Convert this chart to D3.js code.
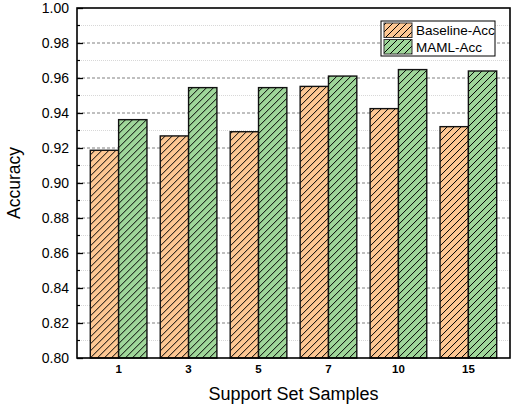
<!DOCTYPE html>
<html>
<head>
<meta charset="utf-8">
<script src="https://d3js.org/d3.v7.min.js"></script>
<style>
  body { margin: 0; background: #fff; }
  svg { font-family: "Liberation Sans", Arial, sans-serif; }
</style>
</head>
<body>
<div id="chart"></div>
<script>
// Data
const categories = ["1", "3", "5", "7", "10", "15"];
const seriesNames = ["Baseline-Acc", "MAML-Acc"];
const baselineAcc = [0.9187, 0.9269, 0.9293, 0.9552, 0.9425, 0.9322];
const mamlAcc = [0.9362, 0.9545, 0.9545, 0.9611, 0.9648, 0.9640];
const yTicks = [0.80, 0.82, 0.84, 0.86, 0.88, 0.90, 0.92, 0.94, 0.96, 0.98, 1.00];
const colors = ["#fdc793", "#9fd69a"];

const width = 512, height = 408;
const margin = { top: 8, right: 2, bottom: 50, left: 77 };
const innerW = width - margin.left - margin.right;
const innerH = height - margin.top - margin.bottom;

const svg = d3.select("#chart").append("svg")
  .attr("width", width)
  .attr("height", height);

// hatch patterns ("/" lines)
const defs = svg.append("defs");
colors.forEach((c, i) => {
  const p = defs.append("pattern")
    .attr("id", "hatch" + i)
    .attr("patternUnits", "userSpaceOnUse")
    .attr("width", 7)
    .attr("height", 7);
  p.append("rect").attr("width", 7).attr("height", 7).attr("fill", c);
  p.append("path")
    .attr("d", "M0,7 L7,0 M-1,1 L1,-1 M6,8 L8,6")
    .attr("stroke", "#000").attr("stroke-width", 1);
});

const g = svg.append("g")
  .attr("transform", `translate(${margin.left},${margin.top})`);

const x0 = d3.scaleBand()
  .domain(categories)
  .range([0, innerW])
  .paddingInner(0.19)
  .paddingOuter(0.19);

const x1 = d3.scaleBand()
  .domain(seriesNames)
  .range([0, x0.bandwidth()]);

const y = d3.scaleLinear().domain([0.8, 1.0]).range([innerH, 0]);

// minor grid
const minor = d3.range(0.81, 1.0, 0.02);
g.append("g").selectAll("line").data(minor).join("line")
  .attr("x1", 0).attr("x2", innerW)
  .attr("y1", d => y(d)).attr("y2", d => y(d))
  .attr("stroke", "#d8d8d8").attr("stroke-width", 1)
  .attr("stroke-dasharray", "1,1");

// major grid
g.append("g").selectAll("line").data(yTicks.slice(1, -1)).join("line")
  .attr("x1", 0).attr("x2", innerW)
  .attr("y1", d => y(d)).attr("y2", d => y(d))
  .attr("stroke", "#808080").attr("stroke-width", 1)
  .attr("stroke-dasharray", "3,2");

// bars
const rows = categories.map((c, i) => ({ cat: c, vals: [baselineAcc[i], mamlAcc[i]] }));
const groups = g.append("g").selectAll("g").data(rows).join("g")
  .attr("transform", d => `translate(${x0(d.cat)},0)`);

groups.selectAll("rect")
  .data(d => d.vals.map((v, i) => ({ name: seriesNames[i], v, i })))
  .join("rect")
  .attr("x", d => x1(d.name))
  .attr("y", d => y(d.v))
  .attr("width", x1.bandwidth())
  .attr("height", d => innerH - y(d.v))
  .attr("fill", d => `url(#hatch${d.i})`)
  .attr("stroke", "#111")
  .attr("stroke-width", 1.4);

// y axis
const yAxis = g.append("g")
  .call(d3.axisLeft(y).tickValues(yTicks).tickFormat(d3.format(".2f")).tickSizeInner(-6).tickSizeOuter(0).tickPadding(8));
yAxis.select(".domain").remove();
yAxis.selectAll("line").attr("stroke", "#000").attr("stroke-width", 1.3);
yAxis.selectAll("text").attr("font-size", 14).attr("fill", "#000");

// minor ticks
g.append("g").selectAll("line").data(d3.range(0.81, 1.0, 0.02)).join("line")
  .attr("x1", 0).attr("x2", 3)
  .attr("y1", d => y(d)).attr("y2", d => y(d))
  .attr("stroke", "#000").attr("stroke-width", 1.2);

// x axis
const xAxis = g.append("g")
  .attr("transform", `translate(0,${innerH})`)
  .call(d3.axisBottom(x0).tickSize(0).tickPadding(7));
xAxis.select(".domain").remove();
xAxis.selectAll("text").attr("font-size", 11.5).attr("font-weight", "bold").attr("fill", "#000");

// frame
g.append("rect")
  .attr("width", innerW).attr("height", innerH)
  .attr("fill", "none").attr("stroke", "#000").attr("stroke-width", 1.6);

// axis titles
svg.append("text")
  .attr("x", margin.left + innerW / 2)
  .attr("y", 400)
  .attr("text-anchor", "middle")
  .attr("font-size", 18)
  .text("Support Set Samples");

svg.append("text")
  .attr("transform", `translate(20,${margin.top + innerH / 2}) rotate(-90)`)
  .attr("text-anchor", "middle")
  .attr("font-size", 17.5)
  .text("Accuracy");

// legend
const lg = svg.append("g").attr("transform", "translate(381,21)");
lg.append("rect")
  .attr("width", 114).attr("height", 35)
  .attr("fill", "#fff").attr("stroke", "#000").attr("stroke-width", 1);
seriesNames.forEach((n, i) => {
  lg.append("rect")
    .attr("x", 3).attr("y", 2 + i * 16.5)
    .attr("width", 28).attr("height", 14.5)
    .attr("fill", `url(#hatch${i})`)
    .attr("stroke", "#333").attr("stroke-width", 1);
  lg.append("text")
    .attr("x", 35).attr("y", 14 + i * 16.5)
    .attr("font-size", 13.5)
    .text(n);
});
</script>
</body>
</html>
